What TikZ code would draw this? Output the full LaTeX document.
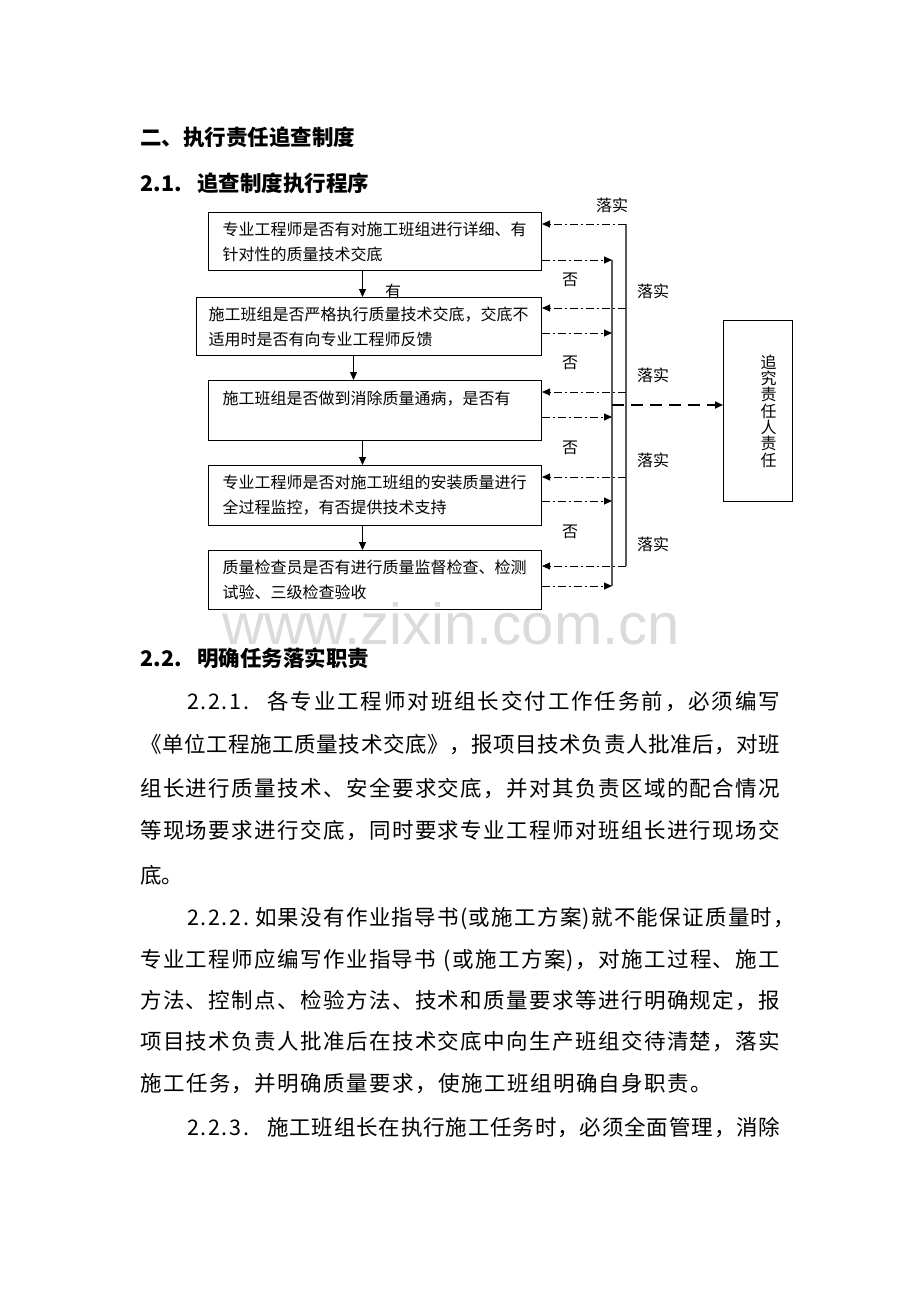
\documentclass[tikz,border=0pt]{standalone}
\usepackage{fontspec}
\setmainfont{Noto Sans CJK SC}
\newfontfamily\wmfont{Liberation Sans}
\usetikzlibrary{arrows.meta}

\newcommand\spreadline[2]{\makebox[#1][s]{\spreadfirst#2\spreadend}}
\def\spreadfirst#1{#1\spreadnext}
\def\spreadnext#1{\ifx#1\spreadend\else\hfill#1\expandafter\spreadnext\fi}
\def\spreadend{\relax}

\tikzset{
  flowbox/.style={draw, line width=1pt, inner xsep=14pt, inner ysep=4pt, text width=305pt,
    minimum height=58pt, align=left, anchor=north west, font=\fontsize{16}{25}\selectfont},
  sidebox/.style={draw, line width=1pt, minimum width=69pt, minimum height=181pt, inner sep=0pt,
    anchor=north west, font=\fontsize{16}{16.3}\selectfont},
  lbl/.style={inner sep=0pt, font=\fontsize{16}{19}\selectfont},
  heading/.style={anchor=west, inner sep=0pt, font=\fontsize{21.5}{26}\selectfont\bfseries},
  bodyline/.style={anchor=west, inner sep=0pt, font=\fontsize{21.5}{26}\selectfont},
  flow/.style={->, line width=1pt},
  fbarrow/.style={->, line width=0.9pt, dash pattern=on 8pt off 3pt on 2pt off 3pt},
  busline/.style={line width=1.6pt, draw=black!65},
  blamearrow/.style={->, line width=1.6pt, dash pattern=on 12pt off 7pt},
}

\begin{document}
\begin{tikzpicture}[x=1pt, y=-1pt, >={Triangle[length=8pt,width=7pt]}]
  \fill[white] (0,0) rectangle (920,1302);
  \useasboundingbox (0,0) rectangle (920,1302);

  \node[anchor=base west, inner sep=0pt, text=black!14, font=\wmfont\fontsize{58}{60}\selectfont] (wm) at (222,644) {www.zixin.com.cn};

  \node[heading] (h1) at (140,137) {二、执行责任追查制度};
  \node[heading] (h2) at (140,183) {\makebox[57pt][l]{\spreadline{42pt}{2.1.}}追查制度执行程序};

  \node[flowbox] (b1) at (208,212) {专业工程师是否有对施工班组进行详细、有\\针对性的质量技术交底};
  \node[flowbox, inner xsep=12pt, text width=321pt] (b2) at (196,297) {施工班组是否严格执行质量技术交底，交底不\\适用时是否有向专业工程师反馈};
  \node[flowbox, minimum height=60pt] (b3) at (208,380) {施工班组是否做到消除质量通病，是否有\\\mbox{}};
  \node[flowbox, minimum height=60pt] (b4) at (208,465) {专业工程师是否对施工班组的安装质量进行\\全过程监控，有否提供技术支持};
  \node[flowbox, minimum height=59pt] (b5) at (208,550) {质量检查员是否有进行质量监督检查、检测\\试验、三级检查验收};
  \node[sidebox] (b6) at (723,320) {\hspace*{21pt}\parbox{16pt}{\centering 追\\究\\责\\任\\人\\责\\任}};

  \draw[flow] ([xshift=-12.5pt]b1.south) -- ([xshift=-12.5pt]b1.south |- b2.north);
  \draw[flow] ([xshift=-15.5pt]b2.south) -- ([xshift=-15.5pt]b2.south |- b3.north);
  \draw[flow] ([xshift=-12.5pt]b3.south) -- ([xshift=-12.5pt]b3.south |- b4.north);
  \draw[flow] ([xshift=-12.5pt]b4.south) -- ([xshift=-12.5pt]b4.south |- b5.north);

  \coordinate (o1) at (626,224);
  \coordinate (o2) at (626,308);
  \coordinate (o3) at (626,392);
  \coordinate (o4) at (626,477);
  \coordinate (o5) at (626,566);
  \coordinate (i1) at (612,260);
  \coordinate (i2) at (612,333);
  \coordinate (i3) at (612,417);
  \coordinate (i4) at (612,501);
  \coordinate (i5) at (612,586);
  \coordinate (j) at (612,405);

  \draw[busline] (o1) -- (o5);
  \draw[busline] (i1) -- (i5);

  \draw[fbarrow] (o1) -- (b1.east |- o1);
  \draw[fbarrow] (o2) -- (b2.east |- o2);
  \draw[fbarrow] (o3) -- (b3.east |- o3);
  \draw[fbarrow] (o4) -- (b4.east |- o4);
  \draw[fbarrow] (o5) -- (b5.east |- o5);
  \draw[fbarrow] (b1.east |- i1) -- (i1);
  \draw[fbarrow] (b2.east |- i2) -- (i2);
  \draw[fbarrow] (b3.east |- i3) -- (i3);
  \draw[fbarrow] (b4.east |- i4) -- (i4);
  \draw[fbarrow] (b5.east |- i5) -- (i5);
  \draw[blamearrow] (j) -- (b6.west |- j);

  \node[lbl] (yes) at (393,291) {有};
  \node[lbl] (no1) at (570,280) {否};
  \node[lbl] (no2) at (570,363) {否};
  \node[lbl] (no3) at (570,448) {否};
  \node[lbl] (no4) at (570,532) {否};
  \node[lbl] (ok0) at (612,205) {落实};
  \node[lbl] (ok1) at (653,291) {落实};
  \node[lbl] (ok2) at (653,375) {落实};
  \node[lbl] (ok3) at (653,460) {落实};
  \node[lbl] (ok4) at (653,544) {落实};

  \node[heading] (h3) at (140,658) {\makebox[57pt][l]{\spreadline{42pt}{2.2.}}明确任务落实职责};

  \node[bodyline] (p1) at (187,702) {\makebox[80pt][l]{\spreadline{62pt}{2.2.1.}}\spreadline{513pt}{各专业工程师对班组长交付工作任务前，必须编写}};
  \node[bodyline] (p2) at (140,745) {\spreadline{640pt}{《单位工程施工质量技术交底》，报项目技术负责人批准后，对班}};
  \node[bodyline] (p3) at (140,788) {\spreadline{640pt}{组长进行质量技术、安全要求交底，并对其负责区域的配合情况}};
  \node[bodyline] (p4) at (140,831) {\spreadline{640pt}{等现场要求进行交底，同时要求专业工程师对班组长进行现场交}};
  \node[bodyline] (p5) at (140,875) {底。};
  \node[bodyline] (p6) at (187,918) {\makebox[68pt][l]{\spreadline{62pt}{2.2.2.}}\spreadline{540pt}{如果没有作业指导书(或施工方案)就不能保证质量时，}};
  \node[bodyline] (p7) at (140,960) {\spreadline{640pt}{专业工程师应编写作业指导书\ (或施工方案)，对施工过程、施工}};
  \node[bodyline] (p8) at (140,1001) {\spreadline{640pt}{方法、控制点、检验方法、技术和质量要求等进行明确规定，报}};
  \node[bodyline] (p9) at (140,1042) {\spreadline{640pt}{项目技术负责人批准后在技术交底中向生产班组交待清楚，落实}};
  \node[bodyline] (p10) at (140,1084) {\spreadline{572pt}{施工任务，并明确质量要求，使施工班组明确自身职责。}};
  \node[bodyline] (p11) at (187,1127) {\makebox[80pt][l]{\spreadline{62pt}{2.2.3.}}\spreadline{513pt}{施工班组长在执行施工任务时，必须全面管理，消除}};
\end{tikzpicture}
\end{document}
